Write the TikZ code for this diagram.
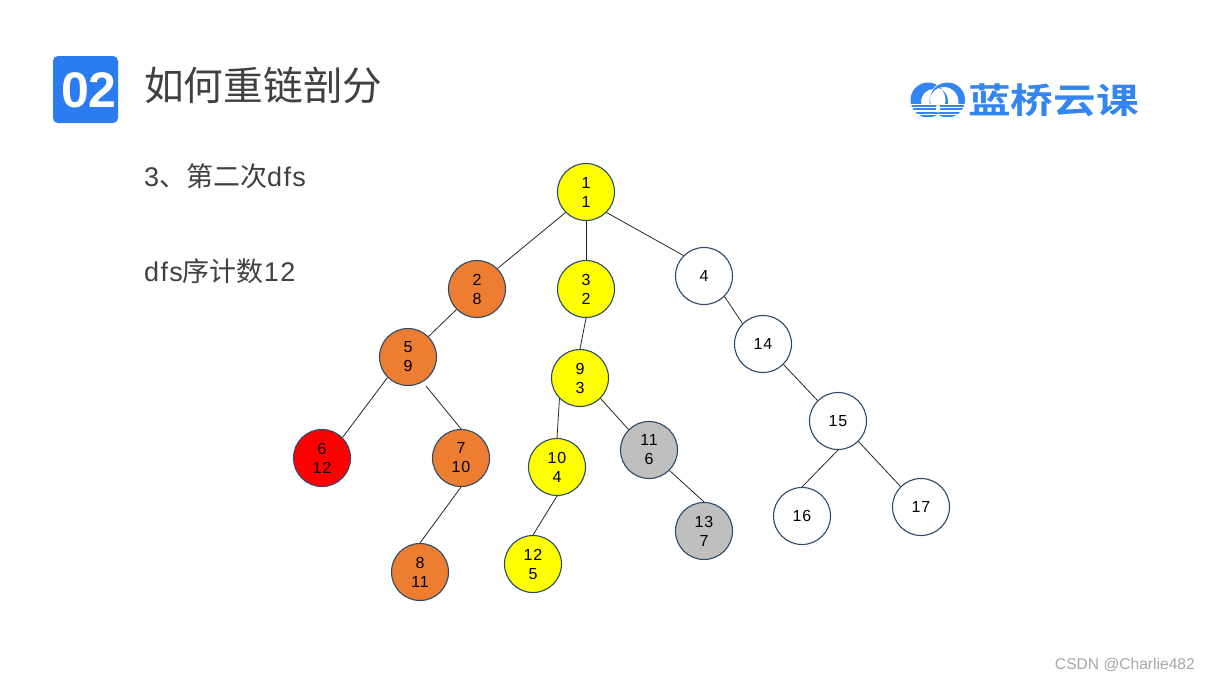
\documentclass[tikz,border=0pt]{standalone}
\usepackage{fontspec}
\setmainfont[LetterSpace=5]{Liberation Sans}
\newfontfamily\cjkfont{Noto Sans CJK SC}
\newfontfamily\cjkbold[FakeStretch=1.22]{Noto Sans CJK SC Bold}
\newfontfamily\numfont{Liberation Sans}
\definecolor{bluebadge}{HTML}{2B7CF0}
\definecolor{logoblue}{HTML}{3385F2}
\definecolor{textgray}{HTML}{404040}
\definecolor{ringblue}{HTML}{2A4A6A}
\definecolor{nodeorange}{HTML}{ED7D31}
\definecolor{nodegray}{HTML}{BFBFBF}
\definecolor{nodeyellow}{RGB}{255,255,0}
\definecolor{nodered}{RGB}{255,0,0}
\tikzset{
  treenode/.style={circle, draw=ringblue, line width=1.1pt, minimum size=57pt, inner sep=0pt, align=center, font=\fontsize{16}{19}\selectfont, text=black},
  heavy/.style={treenode, fill=nodeyellow},
  orangenode/.style={treenode, fill=nodeorange},
  graynode/.style={treenode, fill=nodegray},
  rednode/.style={treenode, fill=nodered},
  plainnode/.style={treenode, fill=white},
  treeedge/.style={draw=black!85, line width=0.8pt},
  bodytext/.style={anchor=west, text=textgray, inner sep=0pt, font=\fontsize{27}{32}\selectfont}
}
\begin{document}
\begin{tikzpicture}[x=1pt, y=-1pt]
  \useasboundingbox (0,0) rectangle (1209,680);

  % Badge and title
  \node[fill=bluebadge, rounded corners=5pt, minimum width=65pt, minimum height=67pt, inner sep=0pt] (badge) at (85.5,89.5) {};
  \node[text=white, inner sep=0pt, font=\numfont\bfseries\fontsize{50}{50}\selectfont] (badgenum) at (89,90) {02};
  \node[anchor=west, text=textgray, inner sep=0pt, font=\cjkfont\fontsize{39.7}{46}\selectfont] (title) at (144,85) {如何重链剖分};

  % Left text
  \node[bodytext] (stepline) at (144,176) {3{\cjkfont 、第二次}dfs};
  \node[bodytext] (countline) at (144,271) {dfs{\cjkfont 序计数}12};

  % Logo rings
  \begin{scope}
    \clip (905,78) rectangle (970,103);
    \fill[logoblue, even odd rule] (928,100) circle (17.5) (933.5,101.5) circle (12.5);
    \fill[white] (947.5,100) circle (18.3);
    \fill[logoblue, even odd rule] (947.5,100) circle (17.5) (944,101.5) circle (14.5);
    \begin{scope}
      \clip (947.5,100) circle (15);
      \fill[logoblue, even odd rule] (928,100) circle (17.5) (933.5,101.5) circle (14.5);
    \end{scope}
  \end{scope}
  % Logo water
  \begin{scope}
    \clip (928,100) circle (17.5) (947.5,100) circle (17.5);
    \foreach \ypos in {104.5,108,111.5,115}
      \fill[logoblue] (905,\ypos) rectangle (970,\ypos+2.2);
    \fill[white] (938,103) .. controls (941,107) and (941,110) .. (938,113) .. controls (935,110) and (935,107) .. (938,103);
  \end{scope}
  \node[anchor=west, text=logoblue, inner sep=0pt, font=\cjkbold\fontsize{35}{40}\selectfont] (logotext) at (968,100) {蓝桥云课};

  % Tree nodes
  \node[heavy] (n1) at (586,192) {1\\1};
  \node[orangenode] (n2) at (477,289) {2\\8};
  \node[heavy] (n3) at (586,289) {3\\2};
  \node[plainnode] (n4) at (704,276) {4};
  \node[orangenode] (n5) at (408,357) {5\\9};
  \node[rednode] (n6) at (322,458) {6\\12};
  \node[orangenode] (n7) at (461,458) {7\\10};
  \node[orangenode] (n8) at (420,572) {8\\11};
  \node[heavy] (n9) at (580,378) {9\\3};
  \node[heavy] (n10) at (557,467) {10\\4};
  \node[graynode] (n11) at (649,450) {11\\6};
  \node[heavy] (n12) at (533,564) {12\\5};
  \node[graynode] (n13) at (704,531) {13\\7};
  \node[plainnode] (n14) at (763,344) {14};
  \node[plainnode] (n15) at (838,421) {15};
  \node[plainnode] (n16) at (802,516) {16};
  \node[plainnode] (n17) at (921,507) {17};

  % Free start of the edge to node 7
  \coordinate (gap7) at (426,386);

  % Tree edges
  \foreach \from/\to in {n1.south west/n2.north east, n1.south/n3.north, n1.south east/n4.north west, n2.south west/n5.north east, n3.south/n9.north, n4.south east/n14.north west, n14.south east/n15.north west, n5.south west/n6.north east, gap7/n7.north, n7.south/n8.north, n9.south west/n10.north, n9.south east/n11.north west, n10.south/n12.north, n11.south east/n13.north, n15.south/n16.north, n15.south east/n17.north west}
    \draw[treeedge] (\from) -- (\to);

  % Watermark
  \node[anchor=east, text=black!35, inner sep=0pt, font=\numfont\fontsize{15.6}{17}\selectfont] (mark) at (1195,665) {CSDN @Charlie482};
\end{tikzpicture}
\end{document}
